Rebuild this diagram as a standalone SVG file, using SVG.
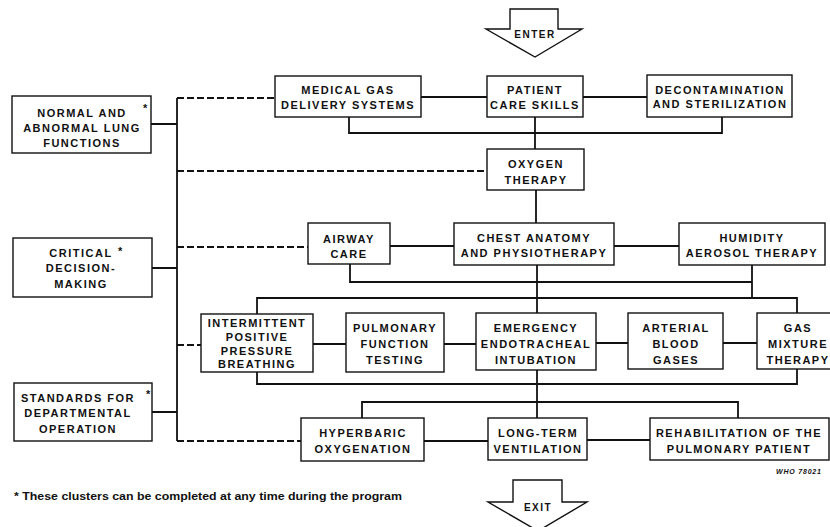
<svg xmlns="http://www.w3.org/2000/svg" width="830" height="527" viewBox="0 0 830 527">
<style>
.bg{fill:#fff}
.box{fill:#fff;stroke:#111;stroke-width:1.4}
.t{font-family:"Liberation Sans",Arial,sans-serif;font-weight:bold;font-size:11px;letter-spacing:1.5px;text-anchor:middle;fill:#111}
.ln{fill:none;stroke:#111;stroke-width:1.8}
.dash{stroke-dasharray:7 3}
.star{font-family:"Liberation Sans",Arial,sans-serif;font-weight:bold;font-size:11px;fill:#111}
.arrow{fill:#fff;stroke:#111;stroke-width:1.4;stroke-linejoin:miter}
</style>
<rect class="bg" x="0" y="0" width="830" height="527"/>

<g id="connectors">
  <path class="ln" d="M151 124H177M152 268H177M152 412H177M177 98V441"/>
  <path class="ln dash" d="M177 98H275M177 171H487M177 247H308M177 345H201M177 441H301"/>
  <path class="ln" d="M421 97H487M583 97H647"/>
  <path class="ln" d="M349 117V133H722V117"/>
  <path class="ln" d="M535 117V149M536 190V223"/>
  <path class="ln" d="M390 246H454M614 246H679"/>
  <path class="ln" d="M350 264V282H752M752 265V298"/>
  <path class="ln" d="M537 265V313"/>
  <path class="ln" d="M257 314V298H797V313"/>
  <path class="ln" d="M313 344H346M444 344H476M596 343H628M723 343H757"/>
  <path class="ln" d="M257 372V384H797V369"/>
  <path class="ln" d="M537 370V418"/>
  <path class="ln" d="M362 418V402H738V418"/>
  <path class="ln" d="M424 441H488M587 440H650"/>
</g>

<g id="enter">
  <polygon class="arrow" points="510,9 558,9 558,29 582,29 535,57 486,29 510,29"/>
  <text class="t" x="535" y="38" style="font-size:10px">ENTER</text>
</g>

<g id="n_normal">
  <rect class="box" x="12" y="96" width="139" height="57"/>
  <text class="t" x="82" y="117">NORMAL AND</text>
  <text class="t" x="82" y="132">ABNORMAL LUNG</text>
  <text class="t" x="82" y="147">FUNCTIONS</text>
  <text class="star" x="143" y="112">*</text>
</g>
<g id="n_critical">
  <rect class="box" x="13" y="238" width="139" height="59"/>
  <text class="t" x="81" y="257">CRITICAL</text>
  <text class="t" x="81" y="272">DECISION-</text>
  <text class="t" x="81" y="288">MAKING</text>
  <text class="star" x="118" y="255">*</text>
</g>
<g id="n_standards">
  <rect class="box" x="14" y="383" width="138" height="58"/>
  <text class="t" x="78" y="402">STANDARDS FOR</text>
  <text class="t" x="78" y="417">DEPARTMENTAL</text>
  <text class="t" x="78" y="433">OPERATION</text>
  <text class="star" x="146" y="398">*</text>
</g>

<g id="n_medgas">
  <rect class="box" x="275" y="76" width="146" height="41"/>
  <text class="t" x="348" y="94">MEDICAL GAS</text>
  <text class="t" x="348" y="109">DELIVERY SYSTEMS</text>
</g>
<g id="n_patient">
  <rect class="box" x="487" y="76" width="96" height="41"/>
  <text class="t" x="535" y="94">PATIENT</text>
  <text class="t" x="535" y="109">CARE SKILLS</text>
</g>
<g id="n_decon">
  <rect class="box" x="647" y="75" width="145" height="42"/>
  <text class="t" x="720" y="94">DECONTAMINATION</text>
  <text class="t" x="720" y="108">AND STERILIZATION</text>
</g>
<g id="n_oxygen">
  <rect class="box" x="487" y="149" width="97" height="41"/>
  <text class="t" x="536" y="168">OXYGEN</text>
  <text class="t" x="536" y="184">THERAPY</text>
</g>
<g id="n_airway">
  <rect class="box" x="308" y="223" width="82" height="41"/>
  <text class="t" x="349" y="243">AIRWAY</text>
  <text class="t" x="349" y="258">CARE</text>
</g>
<g id="n_chest">
  <rect class="box" x="454" y="223" width="160" height="42"/>
  <text class="t" x="534" y="242">CHEST ANATOMY</text>
  <text class="t" x="534" y="257">AND PHYSIOTHERAPY</text>
</g>
<g id="n_humidity">
  <rect class="box" x="679" y="223" width="146" height="42"/>
  <text class="t" x="752" y="242">HUMIDITY</text>
  <text class="t" x="752" y="257">AEROSOL THERAPY</text>
</g>
<g id="n_ippb">
  <rect class="box" x="201" y="314" width="112" height="58"/>
  <text class="t" x="257" y="327">INTERMITTENT</text>
  <text class="t" x="257" y="341">POSITIVE</text>
  <text class="t" x="257" y="355">PRESSURE</text>
  <text class="t" x="257" y="368">BREATHING</text>
</g>
<g id="n_pft">
  <rect class="box" x="346" y="313" width="98" height="59"/>
  <text class="t" x="395" y="332">PULMONARY</text>
  <text class="t" x="395" y="348">FUNCTION</text>
  <text class="t" x="395" y="364">TESTING</text>
</g>
<g id="n_emerg">
  <rect class="box" x="476" y="313" width="120" height="57"/>
  <text class="t" x="536" y="332">EMERGENCY</text>
  <text class="t" x="536" y="348">ENDOTRACHEAL</text>
  <text class="t" x="536" y="364">INTUBATION</text>
</g>
<g id="n_abg">
  <rect class="box" x="628" y="313" width="95" height="56"/>
  <text class="t" x="676" y="332">ARTERIAL</text>
  <text class="t" x="676" y="348">BLOOD</text>
  <text class="t" x="676" y="364">GASES</text>
</g>
<g id="n_gas">
  <rect class="box" x="757" y="313" width="82" height="56"/>
  <text class="t" x="798" y="332">GAS</text>
  <text class="t" x="798" y="348">MIXTURE</text>
  <text class="t" x="798" y="364">THERAPY</text>
</g>
<g id="n_hyper">
  <rect class="box" x="301" y="418" width="123" height="43"/>
  <text class="t" x="363" y="437">HYPERBARIC</text>
  <text class="t" x="363" y="453">OXYGENATION</text>
</g>
<g id="n_long">
  <rect class="box" x="488" y="418" width="99" height="42"/>
  <text class="t" x="538" y="437">LONG-TERM</text>
  <text class="t" x="538" y="453">VENTILATION</text>
</g>
<g id="n_rehab">
  <rect class="box" x="650" y="418" width="179" height="42"/>
  <text class="t" x="739" y="437">REHABILITATION OF THE</text>
  <text class="t" x="739" y="453">PULMONARY PATIENT</text>
</g>

<g id="exit">
  <polygon class="arrow" points="513,480 562,480 562,502 587,502 538,531 488,502 513,502"/>
  <text class="t" x="538" y="511" style="font-size:10px">EXIT</text>
</g>

<text x="776" y="474" style="font-family:'Liberation Sans',Arial,sans-serif;font-weight:bold;font-style:italic;font-size:7px;letter-spacing:0.8px;fill:#111">WHO 78021</text>
<text x="14" y="500" textLength="388" lengthAdjust="spacingAndGlyphs" style="font-family:'Liberation Sans',Arial,sans-serif;font-weight:bold;font-size:10px;fill:#111">* These clusters can be completed at any time during the program</text>
</svg>
